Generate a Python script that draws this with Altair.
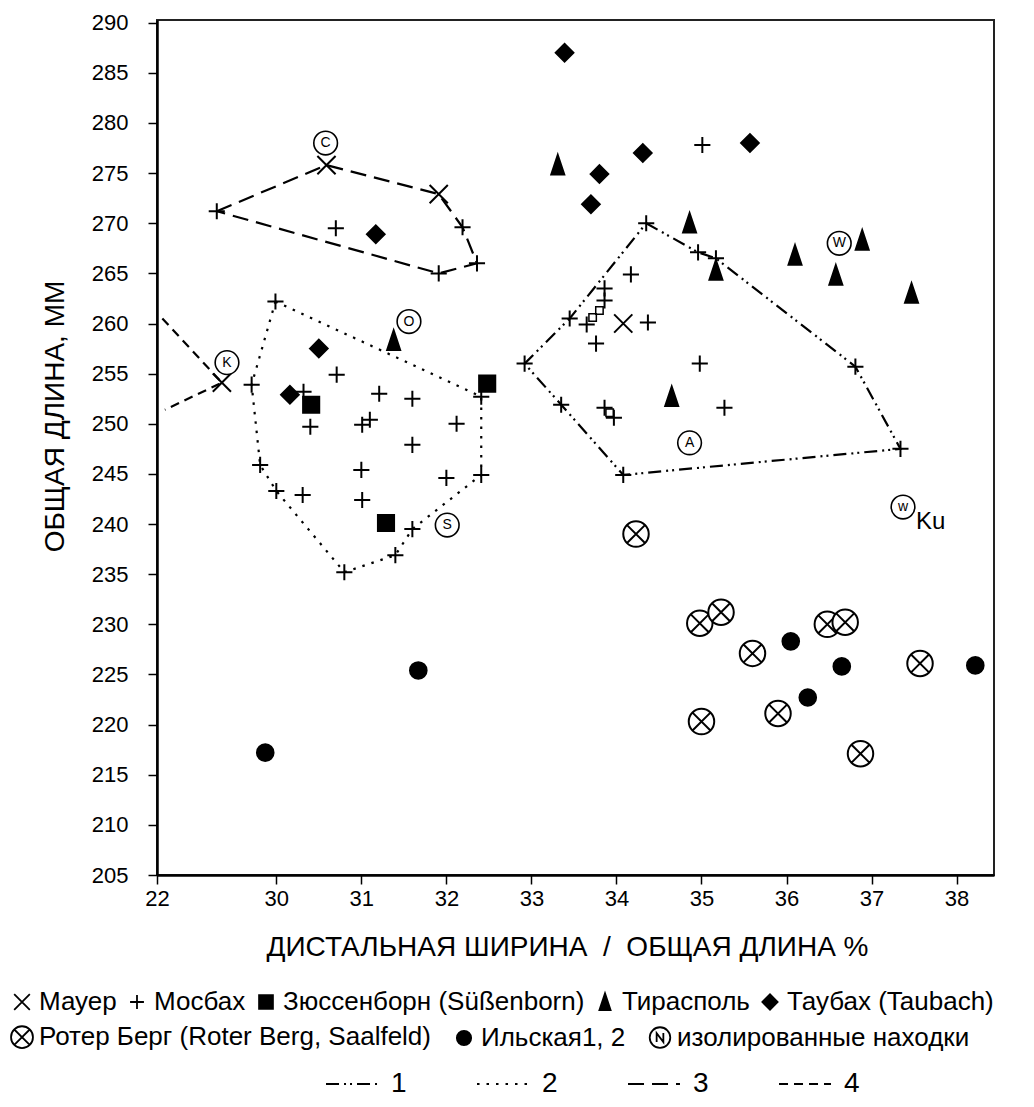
import altair as alt
import pandas as pd

FONT = "Liberation Sans, Arial, sans-serif"
LFONT = "Liberation Sans, Arial, sans-serif"

GROUPS_A = ["Мауер", "Мосбах", "Зюссенборн (Süßenborn)", "Тирасполь", "Таубах (Taubach)"]
GROUPS_B = ["Ротер Берг (Roter Berg, Saalfeld)", "Ильская1, 2", "изолированные находки"]

# ---- data ----
mauer_x = [29.36, 30.59, 31.91, 34.08]
mauer_y = [254.1, 275.8, 272.9, 260.0]

mosbach_x = [29.30, 30.70, 32.19, 32.36, 31.91,
             29.99, 30.71, 29.71, 30.32, 30.40, 31.21, 31.60, 32.41, 31.01, 31.10, 32.12, 31.60,
             29.81, 30.00, 30.31, 31.00, 31.01, 32.00, 32.41, 31.60, 31.40, 30.80,
             35.01,
             34.35, 34.96, 35.17, 34.17, 33.86, 33.86, 33.65, 33.45, 34.37, 33.76, 32.92, 34.98, 36.81,
             33.35, 33.86, 33.97, 35.27, 37.34, 34.08]
mosbach_y = [271.2, 269.5, 269.6, 266.0, 265.0,
             262.2, 254.9, 253.9, 253.2, 249.7, 253.0, 252.5, 252.7, 249.9, 250.4, 250.0, 247.9,
             245.9, 243.3, 242.9, 245.4, 242.4, 244.6, 244.9, 239.5, 236.9, 235.2,
             277.8,
             270.0, 267.1, 266.5, 264.9, 263.5, 262.3, 259.9, 260.5, 260.1, 258.0, 256.0, 256.0, 255.7,
             251.9, 251.6, 250.6, 251.6, 247.5, 244.9]

suss_x = [30.41, 32.48, 31.29]
suss_y = [251.9, 254.0, 240.1]

tira_x = [31.38, 33.31, 34.86, 36.10, 36.89, 35.17, 36.58, 37.47, 34.65]
tira_y = [258.3, 275.8, 270.0, 266.8, 268.3, 265.3, 264.8, 263.0, 252.7]

taub_x = [33.39, 33.80, 34.31, 35.57, 33.70, 31.17, 30.50, 30.16]
taub_y = [287.0, 274.9, 277.0, 278.0, 271.9, 268.9, 257.5, 252.9]

roter_x = [34.23, 34.98, 35.23, 35.60, 36.48, 36.69, 37.57, 35.00, 35.90, 36.87]
roter_y = [239.0, 230.1, 231.2, 227.1, 230.0, 230.2, 226.1, 220.3, 221.1, 217.1]

ilsk_x = [29.87, 31.67, 36.05, 36.65, 38.22, 36.25]
ilsk_y = [217.2, 225.4, 228.3, 225.8, 225.9, 222.7]

iso_x = [30.58, 29.42, 31.56, 32.01, 34.86, 36.62, 37.37]
iso_y = [278.0, 256.1, 260.2, 239.9, 248.1, 268.0, 241.7]
iso_lbl = ["C", "K", "O", "S", "A", "W", "w"]
ku_lbl = ["Ku"]

sq_x = [33.80, 33.72, 33.92]
sq_y = [261.3, 260.6, 251.1]

line1_x = [34.35, 34.96, 35.17, 36.81, 37.34, 34.08, 33.35, 32.92, 33.45, 34.35]
line1_y = [270.0, 267.1, 266.5, 255.7, 247.5, 244.9, 251.9, 256.0, 260.5, 270.0]
line2_x = [29.99, 32.41, 32.41, 31.60, 31.40, 30.80, 30.00, 29.81, 29.71, 29.99]
line2_y = [262.2, 252.7, 244.9, 239.5, 236.9, 235.2, 243.3, 245.9, 253.9, 262.2]
line3_x = [29.30, 30.59, 31.91, 32.19, 32.36, 31.91, 29.30]
line3_y = [271.2, 275.8, 272.9, 269.6, 266.0, 265.0, 271.2]
line4_x = [28.66, 29.36, 28.69]
line4_y = [260.5, 254.1, 251.4]
LINE_TYPES = ["1", "2", "3", "4"]

y_ticks = list(range(205, 291, 5))
x_left = 28.597            # position of the broken-axis "22" tick
x_ticks = [x_left] + list(range(30, 39))

# ---- tables ----
def table(spec, key):
    rows = []
    for g, xs, ys in spec:
        for a, b in zip(xs, ys):
            rows.append({"x": a, "y": b, key: g})
    return pd.DataFrame(rows)

ptsA_df = table([(GROUPS_A[0], mauer_x, mauer_y), (GROUPS_A[1], mosbach_x, mosbach_y),
                 (GROUPS_A[2], suss_x, suss_y), (GROUPS_A[3], tira_x, tira_y),
                 (GROUPS_A[4], taub_x, taub_y)], "ga")
ptsB_df = table([(GROUPS_B[0], roter_x, roter_y), (GROUPS_B[1], ilsk_x, ilsk_y)], "gb")

lines = []
for t, xs, ys in zip(LINE_TYPES, [line1_x, line2_x, line3_x, line4_x], [line1_y, line2_y, line3_y, line4_y]):
    for i, (a, b) in enumerate(zip(xs, ys)):
        lines.append({"x": a, "y": b, "ltype": t, "ord": i})
lines_df = pd.DataFrame(lines)

iso_df = pd.DataFrame({"x": iso_x, "y": iso_y, "lbl": iso_lbl})
ku_df = pd.DataFrame({"x": iso_x[-1:], "y": iso_y[-1:], "lbl": ku_lbl})
sq_df = pd.DataFrame({"x": sq_x, "y": sq_y})

CIRC = "M-{r},0A{r},{r},0,1,0,{r},0A{r},{r},0,1,0,-{r},0Z"
SHAPES_A = [
    "M-0.7,-0.7L0.7,0.7M-0.7,0.7L0.7,-0.7",
    "M-0.62,0L0.62,0M0,-0.62L0,0.62",
    "M-0.62,-0.62L0.62,-0.62L0.62,0.62L-0.62,0.62Z",
    "M0,-0.78L0.5,0.72L-0.5,0.72Z",
    "M-0.68,0L0,-0.68L0.68,0L0,0.68Z",
]
SHAPES_B = [
    CIRC.format(r=0.98) + "M-0.69,-0.69L0.69,0.69M-0.69,0.69L0.69,-0.69",
    CIRC.format(r=0.64),
    CIRC.format(r=0.92) + "M-0.3,0.4L-0.3,-0.4L0.3,0.4L0.3,-0.4",
]
FILLS_A = ["white", "white", "black", "black", "black"]
FILLS_B = ["white", "black", "white"]
DASHES = [[13, 5, 2, 4, 2, 5], [2.5, 7], [16, 8], [9, 6]]

xscale = alt.Scale(domain=[x_left, 38.44], nice=False, zero=False)
yscale = alt.Scale(domain=[205, 290.27], nice=False, zero=False)

xaxis = alt.Axis(values=x_ticks, labelExpr="datum.value < 29 ? '22' : format(datum.value, 'd')",
                 title="ДИСТАЛЬНАЯ ШИРИНА\u00a0 /\u00a0 ОБЩАЯ ДЛИНА %",
                 titleX=410, titleY=72, titleAlign="center", titleBaseline="middle",
                 titleFontSize=28, labelPadding=4, labelFlush=False, labelOverlap=False)
yaxis = alt.Axis(values=y_ticks, title="ОБЩАЯ ДЛИНА, ММ",
                 titleX=-102, titleY=396, titleAngle=270, titleAlign="center", titleBaseline="middle",
                 titleFontSize=28, labelPadding=20, labelOverlap=False)

X = alt.X("x:Q", scale=xscale, axis=xaxis)
Y = alt.Y("y:Q", scale=yscale, axis=yaxis)


def sym_legend(lx, ly, ncol, pad):
    return alt.Legend(title=None, orient="none", legendX=lx, legendY=ly, direction="horizontal",
                      columns=ncol, labelFont=LFONT, labelFontSize=26, labelColor="black",
                      symbolSize=500, symbolStrokeWidth=1.8, labelLimit=900,
                      columnPadding=pad, labelOffset=4)


LEG_A = sym_legend(-148, 969, 5, 7)
LEG_B = sym_legend(-148, 1004, 3, 20)
LEG_L = alt.Legend(title=None, orient="none", legendX=168, legendY=1037, direction="horizontal",
                   columns=4, symbolType="stroke", symbolSize=2700, symbolStrokeWidth=2,
                   symbolStrokeColor="black", labelFont=LFONT, labelFontSize=28, labelColor="black",
                   columnPadding=66, labelOffset=12)

line_layer = alt.Chart(lines_df).mark_line(color="black", strokeWidth=2.2, opacity=1).encode(
    x=X, y=Y, order="ord:Q",
    strokeDash=alt.StrokeDash("ltype:N", scale=alt.Scale(domain=LINE_TYPES, range=DASHES), legend=LEG_L),
)

sq_layer = alt.Chart(sq_df).mark_point(shape="square", size=55, filled=False, color="black",
                                       strokeWidth=1.5, opacity=1).encode(x=X, y=Y)


def point_layer(df, key, groups, shapes, fills, leg):
    sc = dict(domain=groups)
    return alt.Chart(df).mark_point(filled=True, opacity=1, strokeWidth=2.0, size=676).encode(
        x=X, y=Y,
        shape=alt.Shape(f"{key}:N", scale=alt.Scale(range=shapes, **sc), legend=leg),
        fill=alt.Fill(f"{key}:N", scale=alt.Scale(range=fills, **sc), legend=leg),
        stroke=alt.Stroke(f"{key}:N", scale=alt.Scale(range=["black"] * len(groups), **sc), legend=leg),
    )


ptA = point_layer(ptsA_df, "ga", GROUPS_A, SHAPES_A, FILLS_A, LEG_A)
ptB = point_layer(ptsB_df, "gb", GROUPS_B, SHAPES_B, FILLS_B, LEG_B)

iso_circle = alt.Chart(iso_df).mark_point(shape="circle", size=560, filled=True, fill="white",
                                          stroke="black", strokeWidth=1.6, opacity=1).encode(x=X, y=Y)
iso_text = alt.Chart(iso_df).mark_text(font=FONT, fontSize=14, color="black", align="center",
                                       baseline="middle").encode(x=X, y=Y, text="lbl:N")
ku_text = alt.Chart(ku_df).mark_text(font=FONT, fontSize=24, color="black", align="left",
                                     baseline="middle", dx=13, dy=15).encode(x=X, y=Y, text="lbl:N")

chart = alt.layer(line_layer, sq_layer, ptA, ptB, iso_circle, iso_text, ku_text).resolve_scale(
    shape="independent", fill="independent", stroke="independent"
).properties(
    width=837, height=855,
    autosize=alt.AutoSizeParams(type="none"),
    padding={"left": 149, "top": 12, "right": 32, "bottom": 224},
    background="white",
).configure_view(stroke="#222", strokeWidth=2).configure_axis(
    domainColor="black", domainWidth=2.5, tickColor="black", tickWidth=1.5, tickSize=9,
    labelFont=FONT, labelFontSize=22, labelColor="black", titleFont=FONT, titleFontWeight="normal",
    titleColor="black", grid=False,
)

chart.save("out.html", embed_options={"renderer": "svg", "actions": False})
